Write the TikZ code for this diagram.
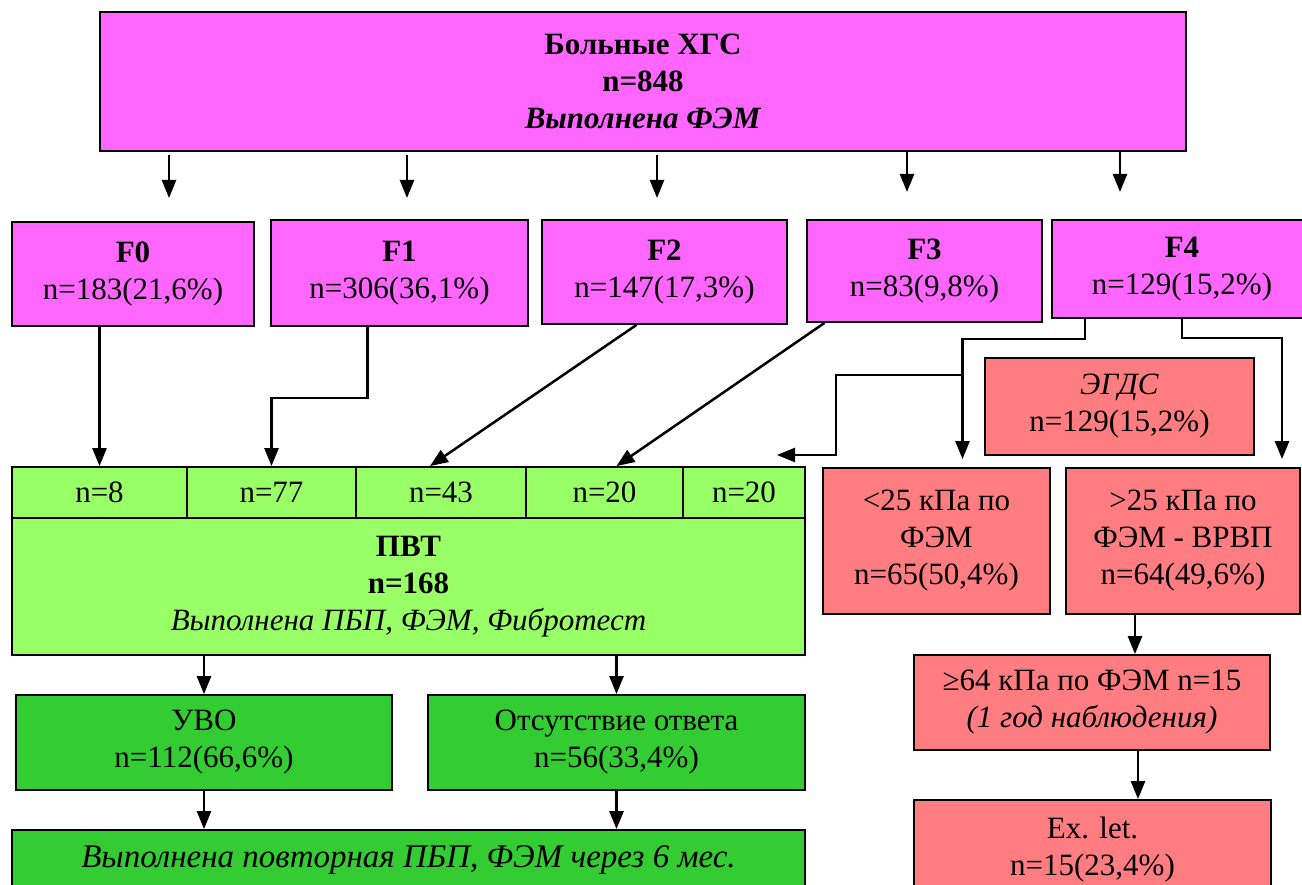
\documentclass[tikz,border=0pt]{standalone}
\usepackage{fontspec}
\setmainfont{Liberation Serif}
\usetikzlibrary{arrows.meta,calc}
\definecolor{mag}{HTML}{FF66FF}
\definecolor{lgreen}{HTML}{99FF66}
\definecolor{dgreen}{HTML}{33CC33}
\definecolor{rose}{HTML}{FF7C80}
\tikzset{
  box/.style={draw=black, line width=1.8pt, align=center, inner sep=0pt,
    font=\fontsize{31}{37}\selectfont},
  arr/.style={line width=2.5pt, -{Triangle[length=18pt,width=14pt]}},
}
\begin{document}
\begin{tikzpicture}[x=1pt,y=-1pt]
\useasboundingbox (0,0) rectangle (1302,885);
% top
\node[box, fill=mag, minimum width=1086, minimum height=139] (top) at (643,81.5)
  {\textbf{Больные ХГС}\\\textbf{n=848}\\\textbf{\textit{Выполнена ФЭМ}}};
% F boxes
\node[box, fill=mag, minimum width=242, minimum height=104] (F0) at (133,274) {\textbf{F0}\\n=183(21,6\%)};
\node[box, fill=mag, minimum width=257, minimum height=106] (F1) at (399.5,273) {\textbf{F1}\\n=306(36,1\%)};
\node[box, fill=mag, minimum width=245, minimum height=104] (F2) at (664.5,272) {\textbf{F2}\\n=147(17,3\%)};
\node[box, fill=mag, minimum width=235, minimum height=102] (F3) at (924.5,271) {\textbf{F3}\\n=83(9,8\%)};
\node[box, fill=mag, minimum width=260, minimum height=98] (F4) at (1182,269) {\textbf{F4}\\n=129(15,2\%)};
% top arrows
\coordinate (t0) at (169,155); \coordinate (b0) at (169,198);
\coordinate (t1) at (407,155); \coordinate (b1) at (407,198);
\coordinate (t2) at (657,155); \coordinate (b2) at (657,198);
\coordinate (t3) at (907,151); \coordinate (b3) at (907,192);
\coordinate (t4) at (1120,151); \coordinate (b4) at (1120,192);
\foreach \i in {0,...,4} \draw[arr] (t\i) -- (b\i);
% cells
\node[box, fill=lgreen, minimum width=175, minimum height=51] (c1) at (99.5,492.5) {n=8};
\node[box, fill=lgreen, minimum width=169, minimum height=51] (c2) at (271.5,492.5) {n=77};
\node[box, fill=lgreen, minimum width=170, minimum height=51] (c3) at (441,492.5) {n=43};
\node[box, fill=lgreen, minimum width=157, minimum height=51] (c4) at (604.5,492.5) {n=20};
\node[box, fill=lgreen, minimum width=122, minimum height=51] (c5) at (744,492.5) {n=20};
\node[box, fill=lgreen, minimum width=793, minimum height=137] (pvt) at (408.5,586.5)
  {\textbf{ПВТ}\\\textbf{n=168}\\\textit{Выполнена ПБП, ФЭМ, Фибротест}};
% F -> cells
\draw[arr] (c1.north |- F0.south) -- (c1.north);
\draw[arr] ($(F1.south)+(-32,0)$) -- ++(0,71) -| (c2.north);
\draw[arr] ($(F2.south)+(-28,0)$) -- ($(c3.north)+(-11,0)$);
\draw[arr] ($(F3.south)+(-100,0)$) -- ($(c4.north)+(12,0)$);
% lower green
\node[box, fill=dgreen, minimum width=376, minimum height=95] (uvo) at (204,742.5) {УВО\\n=112(66,6\%)};
\node[box, fill=dgreen, minimum width=377, minimum height=95] (otv) at (616.5,742.5) {Отсутствие ответа\\n=56(33,4\%)};
\node[box, fill=dgreen, minimum width=793, minimum height=60] (rep) at (408.5,860)
  {\fontsize{33}{37}\selectfont\textit{Выполнена повторная ПБП, ФЭМ через 6 мес.}};
\draw[arr] (pvt.south -| uvo.north) -- (uvo.north);
\draw[arr] (pvt.south -| otv.north) -- (otv.north);
\draw[arr] (uvo.south) -- (uvo.south |- rep.north);
\draw[arr] (otv.south) -- (otv.south |- rep.north);
% right side
\node[box, fill=rose, minimum width=269, minimum height=97] (egds) at (1119.5,406.5) {\textit{ЭГДС}\\n=129(15,2\%)};
\node[box, fill=rose, minimum width=227, minimum height=146] (lt) at (936.5,541) {<25 кПа по\\ФЭМ\\n=65(50,4\%)};
\node[box, fill=rose, minimum width=234, minimum height=146] (gt) at (1183,541) {>25 кПа по\\ФЭМ - ВРВП\\n=64(49,6\%)};
\node[box, fill=rose, minimum width=356, minimum height=95] (ge) at (1092,702.5) {≥64 кПа по ФЭМ n=15\\\textit{(1 год наблюдения)}};
\node[box, fill=rose, minimum width=357, minimum height=100] (ex) at (1092.5,850) {Ex. let.\\n=15(23,4\%)};
\draw[arr, shorten >=8pt] ($(F4.south)+(-97,0)$) -- ++(0,20) -| ($(lt.north)+(26,0)$);
\draw[arr, shorten >=8pt] (F4.south) -- ++(0,19) -| ($(gt.north)+(99,0)$);
\coordinate (j) at (963,375);
\coordinate (pt) at (777,455);
\draw[arr] (j) -- ++(-127,0) |- (pt);
\draw[arr] ($(gt.south)+(-48,0)$) coordinate (g1) -- (g1 |- ge.north);
\draw[arr] ($(ge.south)+(46,0)$) coordinate (g2) -- (g2 |- ex.north);
\end{tikzpicture}
\end{document}
